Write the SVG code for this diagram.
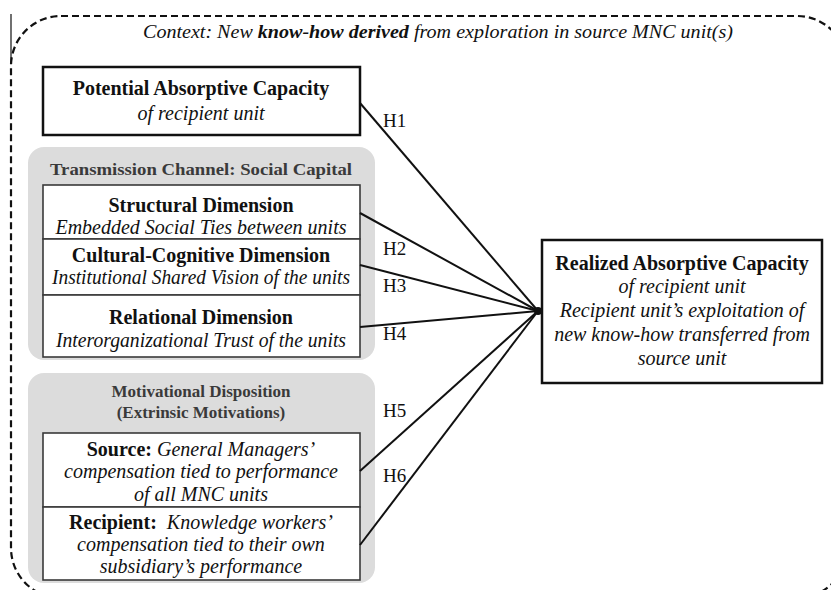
<svg xmlns="http://www.w3.org/2000/svg" width="831" height="590" viewBox="0 0 831 590">
  <style>
    text { font-family: "Liberation Serif", "Times New Roman", serif; fill: #111; }
    .b { font-weight: bold; font-size: 20px; }
    .i { font-style: italic; font-size: 20px; }
    .hd { font-weight: bold; font-size: 17px; fill: #3a3a3a; }
    .h { font-size: 19px; }
    .ctx { font-style: italic; font-size: 18px; }
    .panel { fill: #dcdcdc; stroke: none; }
    .cell { fill: #ffffff; stroke: #3a3a3a; stroke-width: 1.6; }
    .box { fill: #ffffff; stroke: #111; stroke-width: 2.5; }
    .link { fill: none; stroke: #111; stroke-width: 2; }
  </style>

  <rect width="831" height="590" fill="#ffffff"/>

  <!-- context frame -->
  <g id="context">
    <rect x="11" y="16" width="836" height="582" rx="50" ry="50" fill="none" stroke="#111" stroke-width="2.2" stroke-dasharray="7,4"/>
    <line x1="11" y1="14" x2="11" y2="62" stroke="#111" stroke-width="1.2"/>
    <text class="ctx" x="438" y="38" text-anchor="middle" textLength="590" lengthAdjust="spacingAndGlyphs">Context: New <tspan font-weight="bold">know-how derived</tspan> from exploration in source MNC unit(s)</text>
  </g>

  <!-- potential absorptive capacity -->
  <g id="potential">
    <rect class="box" x="43" y="67" width="317" height="68"/>
    <text class="b" x="201" y="95" text-anchor="middle">Potential Absorptive Capacity</text>
    <text class="i" x="201" y="120" text-anchor="middle">of recipient unit</text>
  </g>

  <!-- social capital panel -->
  <g id="social-capital">
    <rect class="panel" x="28" y="147" width="347" height="213" rx="16" ry="16"/>
    <text class="hd" x="201" y="175" text-anchor="middle" textLength="302" lengthAdjust="spacingAndGlyphs">Transmission Channel: Social Capital</text>
  </g>
  <g id="structural">
    <rect class="cell" x="43" y="185" width="317" height="54"/>
    <text class="b" x="201" y="212" text-anchor="middle">Structural Dimension</text>
    <text class="i" x="201" y="234" text-anchor="middle">Embedded Social Ties between units</text>
  </g>
  <g id="cultural">
    <rect class="cell" x="43" y="239" width="317" height="56"/>
    <text class="b" x="201" y="262" text-anchor="middle">Cultural-Cognitive Dimension</text>
    <text class="i" x="201" y="284" text-anchor="middle" textLength="298" lengthAdjust="spacingAndGlyphs">Institutional Shared Vision of the units</text>
  </g>
  <g id="relational">
    <rect class="cell" x="43" y="295" width="317" height="62"/>
    <text class="b" x="201" y="324" text-anchor="middle">Relational Dimension</text>
    <text class="i" x="201" y="347" text-anchor="middle" textLength="290" lengthAdjust="spacingAndGlyphs">Interorganizational Trust of the units</text>
  </g>

  <!-- motivational disposition panel -->
  <g id="motivation">
    <rect class="panel" x="28" y="373" width="347" height="210" rx="16" ry="16"/>
    <text class="hd" x="201" y="397" text-anchor="middle">Motivational Disposition</text>
    <text class="hd" x="201" y="418" text-anchor="middle">(Extrinsic Motivations)</text>
  </g>
  <g id="source">
    <rect class="cell" x="43" y="433" width="317" height="74"/>
    <text x="201" y="456" text-anchor="middle"><tspan class="b">Source:</tspan><tspan class="i"> General Managers’</tspan></text>
    <text class="i" x="201" y="478" text-anchor="middle">compensation tied to performance</text>
    <text class="i" x="201" y="501" text-anchor="middle">of all MNC units</text>
  </g>
  <g id="recipient">
    <rect class="cell" x="43" y="507" width="317" height="73"/>
    <text x="201" y="529" text-anchor="middle"><tspan class="b">Recipient:</tspan><tspan class="i" xml:space="preserve">  Knowledge workers’</tspan></text>
    <text class="i" x="201" y="551" text-anchor="middle">compensation tied to their own</text>
    <text class="i" x="201" y="573" text-anchor="middle">subsidiary’s performance</text>
  </g>

  <!-- realized absorptive capacity -->
  <g id="realized">
    <rect class="box" x="542" y="240" width="280" height="143" stroke-width="2.2"/>
    <text class="b" x="682" y="270" text-anchor="middle">Realized Absorptive Capacity</text>
    <text class="i" x="682" y="293" text-anchor="middle">of recipient unit</text>
    <text class="i" x="682" y="317" text-anchor="middle">Recipient unit’s exploitation of</text>
    <text class="i" x="682" y="341" text-anchor="middle">new know-how transferred from</text>
    <text class="i" x="682" y="365" text-anchor="middle">source unit</text>
  </g>

  <!-- hypothesis links -->
  <g id="links">
    <line class="link" x1="360" y1="103" x2="538" y2="311"/>
    <line class="link" x1="360" y1="213" x2="538" y2="311"/>
    <line class="link" x1="360" y1="265" x2="538" y2="311"/>
    <line class="link" x1="360" y1="327" x2="538" y2="311"/>
    <line class="link" x1="360" y1="471" x2="538" y2="311"/>
    <line class="link" x1="360" y1="545" x2="538" y2="311"/>
    <circle cx="538" cy="311" r="4" fill="#111"/>
    <text class="h" x="383" y="127">H1</text>
    <text class="h" x="383" y="255">H2</text>
    <text class="h" x="383" y="292">H3</text>
    <text class="h" x="383" y="340">H4</text>
    <text class="h" x="383" y="417">H5</text>
    <text class="h" x="383" y="482">H6</text>
  </g>
</svg>
